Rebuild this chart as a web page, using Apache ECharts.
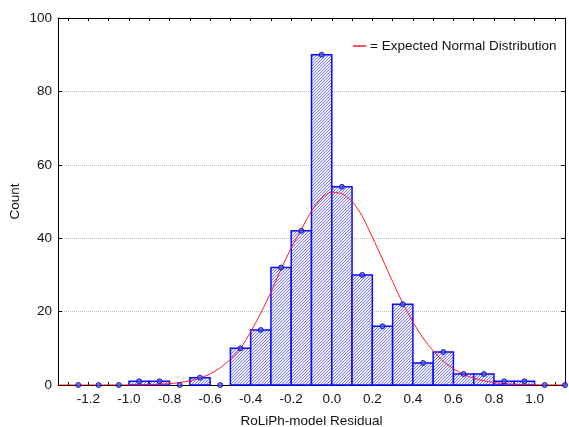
<!DOCTYPE html>
<html>
<head>
<meta charset="utf-8">
<script src="https://cdn.jsdelivr.net/npm/echarts@6/dist/echarts.min.js"></script>
<style>
html,body{margin:0;padding:0;background:#fff;}
#chart{width:569px;height:427px;}
</style>
</head>
<body>
<div id="chart"></div>
<script>
// ---- data ----
const binLow  = [-1.3,-1.2,-1.1,-1.0,-0.9,-0.8,-0.7,-0.6,-0.5,-0.4,-0.3,-0.2,-0.1,0.0,0.1,0.2,0.3,0.4,0.5,0.6,0.7,0.8,0.9,1.0,1.1];
const binHigh = [-1.2,-1.1,-1.0,-0.9,-0.8,-0.7,-0.6,-0.5,-0.4,-0.3,-0.2,-0.1,0.0,0.1,0.2,0.3,0.4,0.5,0.6,0.7,0.8,0.9,1.0,1.1,1.2];
const binMid  = [-1.25,-1.15,-1.05,-0.95,-0.85,-0.75,-0.65,-0.55,-0.45,-0.35,-0.25,-0.15,-0.05,0.05,0.15,0.25,0.35,0.45,0.55,0.65,0.75,0.85,0.95,1.05,1.15];
const counts  = [0,0,0,1,1,0,2,0,10,15,32,42,90,54,30,16,22,6,9,3,3,1,1,0,0];

const curveX = [-1.35,-1.3,-1.25,-1.2,-1.15,-1.1,-1.05,-1.0,-0.95,-0.9,-0.85,-0.8,-0.75,-0.7,-0.65,-0.6,-0.55,-0.5,-0.45,-0.4,-0.35,-0.3,-0.25,-0.2,-0.15,-0.1,-0.05,0.0,0.05,0.1,0.15,0.2,0.25,0.3,0.35,0.4,0.45,0.5,0.55,0.6,0.65,0.7,0.75,0.8,0.85,0.9,0.95,1.0,1.05,1.1,1.15];
const curveY = [0,0,0,0,0,0.005,0.01,0.02,0.05,0.1,0.2,0.38,0.68,1.15,1.9,3.0,4.7,7.0,10,14.5,19.6,25.3,31.6,37.3,42.4,47.4,50.9,52.5,52.1,50,46,40.3,34.3,28.2,22.3,17.2,12.8,9.3,6.5,4.4,2.9,1.85,1.15,0.68,0.38,0.2,0.1,0.05,0.02,0.01,0];

const xTickValues  = [-1.3,-1.2,-1.1,-1.0,-0.9,-0.8,-0.7,-0.6,-0.5,-0.4,-0.3,-0.2,-0.1,0.0,0.1,0.2,0.3,0.4,0.5,0.6,0.7,0.8,0.9,1.0,1.1];
const xLabelValues = [-1.2,-1.0,-0.8,-0.6,-0.4,-0.2,0.0,0.2,0.4,0.6,0.8,1.0];

const xTitle = 'RoLiPh-model Residual';
const yTitle = 'Count';
const curveName = '= Expected Normal Distribution';

// ---- hatch pattern ----
const tile = document.createElement('canvas');
tile.width = 3; tile.height = 3;
const tc = tile.getContext('2d');
tc.fillStyle = '#f4f4ff';
tc.fillRect(0,0,3,3);
tc.fillStyle = '#7878ff';
tc.fillRect(2,0,1,1); tc.fillRect(1,1,1,1); tc.fillRect(0,2,1,1);
const hatch = {image: tile, repeat: 'repeat'};

const FONT = 'Arial, "Liberation Sans", sans-serif';
const FS = 13.5;

const barData = binLow.map((lo,i)=>[lo, binHigh[i], counts[i]]);
const dotData = binMid.map((m,i)=>[m, counts[i]]);
const curveData = curveX.map((x,i)=>[x, curveY[i]]);

const chart = echarts.init(document.getElementById('chart'), null, {renderer:'canvas'});
chart.setOption({
  animation:false,
  backgroundColor:'#fff',
  grid:{left:58, right:4, top:18, bottom:42, containLabel:false, outerBoundsMode:'none'},
  legend:{
    show:true, data:[{name:curveName, icon:'rect'}],
    left:348, top:34, itemWidth:13, itemHeight:1.5, itemGap:4,
    textStyle:{fontFamily:FONT, fontSize:FS, color:'#111', padding:[0,0,0,-1]}
  },
  xAxis:[{
    type:'value', min:-1.35, max:1.15, position:'bottom',
    name:xTitle, nameLocation:'middle', nameGap:29, nameMoveOverlap:false,
    nameTextStyle:{fontFamily:FONT, fontSize:FS, color:'#111'},
    axisLine:{onZero:false, lineStyle:{color:'#000', width:1}},
    axisTick:{show:true, inside:true, length:3, customValues:xTickValues, lineStyle:{color:'#000'}},
    axisLabel:{customValues:xLabelValues, formatter:v=>v.toFixed(1), fontFamily:FONT, fontSize:FS, color:'#111', margin:7},
    splitLine:{show:false}
  },{
    type:'value', min:-1.35, max:1.15, position:'top',
    axisLine:{show:true, onZero:false, lineStyle:{color:'#000', width:1}},
    axisTick:{show:true, inside:true, length:3, customValues:xTickValues, lineStyle:{color:'#000'}},
    axisLabel:{show:false},
    splitLine:{show:false}
  }],
  yAxis:[{
    type:'value', min:0, max:100, interval:20, position:'left',
    name:yTitle, nameLocation:'middle', nameGap:36, nameRotate:90, nameMoveOverlap:false,
    nameTextStyle:{fontFamily:FONT, fontSize:FS, color:'#111'},
    axisLine:{show:true, onZero:false, lineStyle:{color:'#000', width:1}},
    axisTick:{show:true, inside:true, length:4, lineStyle:{color:'#000'}},
    axisLabel:{fontFamily:FONT, fontSize:FS, color:'#111', margin:6},
    splitLine:{show:true, lineStyle:{color:'#bcbcbc', type:'dotted', width:1}}
  },{
    type:'value', min:0, max:100, interval:20, position:'right',
    axisLine:{show:true, onZero:false, lineStyle:{color:'#000', width:1}},
    axisTick:{show:true, inside:true, length:4, lineStyle:{color:'#000'}},
    axisLabel:{show:false},
    splitLine:{show:false}
  }],
  series:[{
    type:'custom', name:'hist', xAxisIndex:0, yAxisIndex:0,
    data:barData, silent:true,
    renderItem:function(params, api){
      const c = api.value(2);
      if (c <= 0) return null;
      const p0 = api.coord([api.value(0), c]);
      const p1 = api.coord([api.value(1), 0]);
      return {type:'rect',
        shape:{x:p0[0], y:p0[1], width:p1[0]-p0[0], height:p1[1]-p0[1]},
        style:{fill:hatch, stroke:'#0a0aff', lineWidth:1.5}};
    },
    z:2
  },{
    type:'line', name:curveName, data:curveData, smooth:0.3,
    showSymbol:false, symbol:'none', clip:true,
    lineStyle:{color:'#ff1a1a', width:1},
    itemStyle:{color:'#ff1a1a'},
    z:3
  },{
    type:'scatter', name:'pts', data:dotData, symbol:'circle', symbolSize:5, clip:false,
    itemStyle:{color:'#4a5ae6', borderColor:'#0000b0', borderWidth:1},
    z:4
  }]
});
</script>
</body>
</html>
